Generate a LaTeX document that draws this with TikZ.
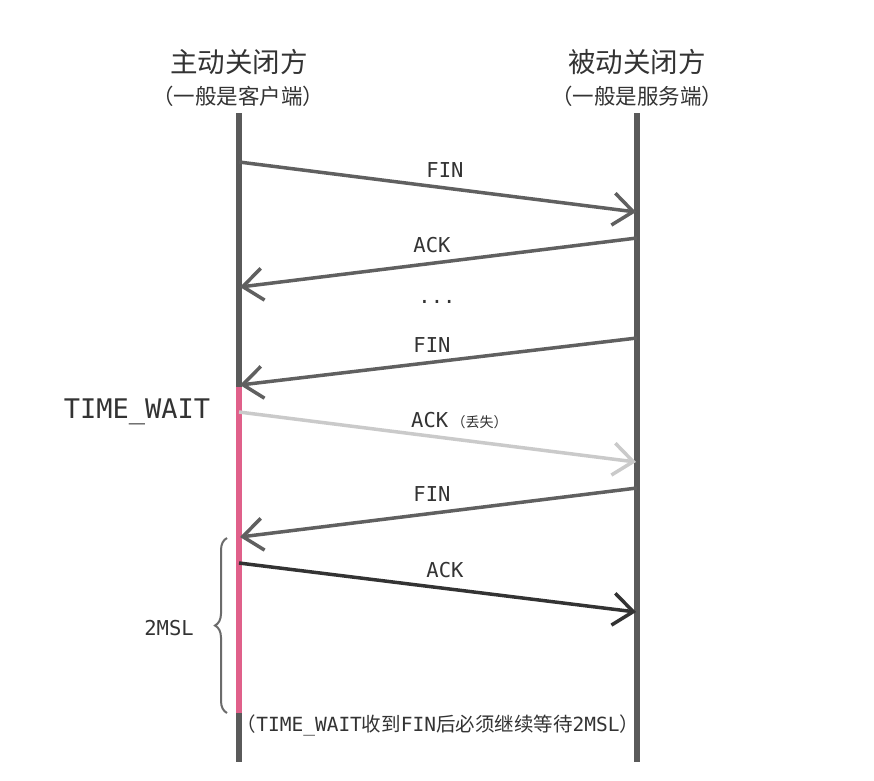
\documentclass[tikz,border=0pt]{standalone}
\usepackage{fontspec}
\setmonofont{DejaVu Sans Mono}
\newfontfamily\cjk{Noto Sans CJK SC}
\usetikzlibrary{arrows.meta,decorations.pathreplacing}
\definecolor{life}{HTML}{5A5A5A}
\definecolor{msg}{HTML}{606060}
\definecolor{lost}{HTML}{CACACA}
\definecolor{dark}{HTML}{333333}
\definecolor{txt}{HTML}{333333}
\definecolor{pinkw}{HTML}{E0608A}
\begin{document}
\begin{tikzpicture}[x=1pt,y=-1pt,
  lifeline/.style={line width=6pt,draw=life},
  msgarrow/.style={line width=3.5pt,draw=msg,-{Straight Barb[length=20pt,width=32pt,line width=3.5pt]}},
  lbl/.style={font=\ttfamily\fontsize{20.5}{22}\selectfont,text=txt,inner sep=0pt},
  head/.style={font=\cjk\fontsize{27.5}{29}\selectfont,text=txt,inner sep=0pt},
  subhead/.style={font=\cjk\fontsize{21.5}{23}\selectfont,text=txt,inner sep=0pt}]
\fill[white] (0,0) rectangle (874,780);
\useasboundingbox (0,0) rectangle (874,780);
% lifelines
\coordinate (Ltop) at (239,113);
\coordinate (Lbot) at (239,762);
\coordinate (Rtop) at (637,113);
\coordinate (Rbot) at (637,762);
\coordinate (Pk1) at (239,387);
\coordinate (Pk2) at (239,713);
\draw[lifeline] (Ltop) -- (Lbot);
\draw[lifeline] (Rtop) -- (Rbot);
\draw[line width=6pt,draw=pinkw] (Pk1) -- (Pk2);
% headers
\node[head] (h1) at (239,62) {主动关闭方};
\node[subhead] (s1) at (238,96) {（一般是客户端）};
\node[head] (h2) at (637,62) {被动关闭方};
\node[subhead] (s2) at (637,96) {（一般是服务端）};
% message anchor points
\coordinate (a1) at (239,162); \coordinate (b1) at (636,212);
\coordinate (a2) at (637,238); \coordinate (b2) at (240,287);
\coordinate (a3) at (637,338); \coordinate (b3) at (240,385);
\coordinate (a4) at (239,412); \coordinate (b4) at (636,462);
\coordinate (a5) at (637,488); \coordinate (b5) at (240,537);
\coordinate (a6) at (239,563); \coordinate (b6) at (636,612);
\draw[msgarrow] (a1) -- (b1);
\draw[msgarrow] (a2) -- (b2);
\draw[msgarrow] (a3) -- (b3);
\draw[msgarrow,draw=lost,-{Straight Barb[length=20pt,width=32pt,line width=3.5pt]}] (a4) -- (b4);
\draw[msgarrow] (a5) -- (b5);
\draw[msgarrow,draw=dark] (a6) -- (b6);
% labels
\node[lbl] (l1) at (445,170) {FIN};
\node[lbl] (l2) at (432,245) {ACK};
\node[lbl] (dots) at (437,302) {...};
\node[lbl] (l3) at (432,345) {FIN};
\node[lbl,anchor=west] (l4) at (411,421) {ACK\,{\cjk\fontsize{14}{16}\selectfont （丢失）}};
\node[lbl] (l5) at (432,494) {FIN};
\node[lbl] (l6) at (445,570) {ACK};
\node[font=\ttfamily\fontsize{27}{29}\selectfont,text=txt,inner sep=0pt] (tw) at (137,412) {TIME\_WAIT};
\node[lbl,font=\ttfamily\fontsize{20.5}{22}\selectfont] (msl) at (169,628) {2MSL};
% brace
\coordinate (br1) at (227,713);
\coordinate (br2) at (227,538);
\draw[draw=life!90,line width=2pt,decorate,decoration={brace,amplitude=12pt}] (br1) -- (br2);
% bottom note
\node[font=\fontsize{19.5}{21}\selectfont,text=txt,inner sep=0pt] (note) at (438,725)
  {{\cjk （}\texttt{TIME\_WAIT}{\cjk 收到}\texttt{FIN}{\cjk 后必须继续等待}\texttt{2MSL}{\cjk ）}};
\end{tikzpicture}
\end{document}
